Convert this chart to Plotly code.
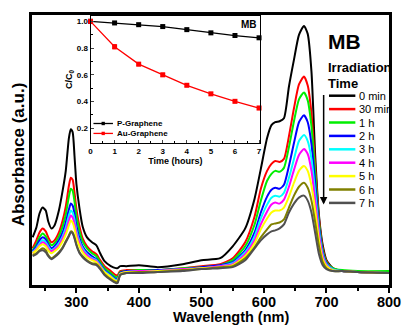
import numpy as np
import plotly.graph_objects as go

# ---------------- data ----------------
wavelength = [230, 236, 241, 246, 251, 255, 260, 265, 272, 278, 283, 288, 291, 294, 297, 300,
              305, 310, 317, 325, 332, 338, 345, 355, 363, 366, 370,
              380, 400, 430, 470, 500, 530,
              550, 570, 585, 595, 605, 612, 618, 625, 632, 640, 648, 656,
              664, 670, 676, 682, 688, 694, 700, 710, 725, 750, 800]

# absorbance in units of 0.01 a.u.
abs_0min = [48, 58, 72, 78, 75, 64, 57, 60, 75, 95, 115, 148, 157, 154, 130, 102, 77, 59, 48, 43, 40, 32, 24, 19, 17, 17, 19,
            19, 20, 18, 21, 25, 27,
            39, 57, 87, 117, 148, 161, 164, 165, 168, 200, 227, 252,
            261, 253, 215, 130, 70, 40, 25, 17, 14, 13, 12]
abs_30min = [37, 45, 53, 57, 54, 48, 43, 45, 53, 65, 79, 100, 108, 106, 93, 77, 59, 47, 39, 34, 31, 25, 19, 14, 10, 10, 14,
             15, 15, 15, 17, 19, 21,
             27, 43, 69, 97, 115, 122, 125, 124, 127, 150, 178, 202,
             210, 201, 173, 120, 67, 37, 24, 17, 14, 13, 12]
abs_1h = [35, 41, 48, 52, 49, 44, 40, 42, 49, 59, 71, 89, 97, 95, 84, 70, 54, 44, 37, 32, 29, 23, 17, 12, 8, 8, 13,
          14, 15, 15, 17, 18, 20,
          25, 39, 61, 85, 105, 112, 115, 114, 118, 139, 165, 187,
          194, 186, 160, 113, 63, 35, 23, 17, 15, 14, 14]
abs_2h = [34, 39, 45, 48, 46, 41, 37, 39, 45, 53, 63, 76, 82, 80, 72, 60, 47, 39, 33, 29, 26, 21, 15, 10, 6, 6, 12,
          14, 14, 15, 16, 18, 20,
          23, 35, 53, 73, 89, 96, 98, 97, 101, 120, 143, 164,
          171, 164, 142, 103, 59, 33, 22, 16, 14, 13, 12]
abs_3h = [33, 37, 42, 45, 43, 39, 35, 37, 42, 49, 58, 70, 75, 73, 66, 55, 44, 37, 31, 27, 25, 20, 14, 9, 5, 5, 11,
          13, 14, 14, 16, 17, 19,
          22, 33, 49, 67, 81, 88, 90, 89, 93, 108, 127, 145,
          151, 145, 127, 93, 55, 31, 21, 16, 14, 13, 12]
abs_4h = [32, 36, 40, 43, 41, 37, 34, 36, 40, 47, 54, 65, 70, 68, 62, 52, 42, 35, 30, 26, 24, 19, 13, 8, 4, 4, 11,
          13, 14, 14, 16, 17, 19,
          21, 31, 45, 61, 74, 81, 83, 82, 86, 99, 116, 131,
          137, 132, 115, 85, 51, 29, 20, 15, 14, 13, 12]
abs_5h = [32, 35, 39, 41, 39, 35, 32, 34, 38, 44, 51, 60, 65, 63, 57, 48, 39, 33, 28, 25, 23, 18, 13, 8, 4, 4, 11,
          13, 13, 14, 15, 17, 18,
          20, 29, 42, 56, 67, 73, 75, 75, 78, 89, 103, 115,
          120, 115, 100, 75, 45, 26, 19, 15, 14, 13, 12]
abs_6h = [30, 32, 35, 37, 35, 30, 27, 29, 33, 38, 44, 50, 54, 53, 48, 41, 33, 29, 25, 22, 21, 17, 11, 6, 3, 3, 10,
          12, 13, 13, 15, 16, 18,
          19, 27, 38, 48, 56, 61, 62, 63, 66, 78, 90, 99,
          103, 98, 85, 63, 39, 23, 17, 14, 14, 13, 12]
abs_7h = [29, 31, 34, 35, 33, 29, 26, 28, 32, 37, 43, 49, 53, 52, 47, 40, 32, 28, 24, 21, 20, 16, 10, 5, 2, 2, 10,
          12, 12, 13, 14, 16, 17,
          18, 25, 37, 45, 51, 54, 55, 57, 61, 73, 82, 88,
          90, 85, 73, 52, 31, 20, 16, 14, 14, 13, 12]

series_names = ["0 min", "30 min", "1 h", "2 h", "3 h", "4 h", "5 h", "6 h", "7 h"]
series_values = [abs_0min, abs_30min, abs_1h, abs_2h, abs_3h, abs_4h, abs_5h, abs_6h, abs_7h]
series_colors = ["#000000", "#FF0000", "#00EE00", "#0000FF", "#00FFFF", "#FF00FF", "#FFFF00", "#808000", "#505050"]

# inset data
time_hours = [0, 1, 2, 3, 4, 5, 6, 7]
p_graphene = [1.0, 0.988, 0.975, 0.961, 0.938, 0.914, 0.894, 0.877]
au_graphene = [1.0, 0.81, 0.68, 0.60, 0.522, 0.458, 0.402, 0.352]
au_graphene_err = [0.0, 0.015, 0.012, 0.012, 0.01, 0.01, 0.01, 0.012]
p_graphene_err = [0.0, 0.004, 0.004, 0.004, 0.004, 0.004, 0.004, 0.004]

# ---------------- figure ----------------
W, H = 413, 325
ML, MR, MT, MB = 32, 15, 13, 40
PW, PH = W - ML - MR, H - MT - MB


def px(x):
    return (x - ML) / PW


def py(y):
    return (H - MB - y) / PH


fig = go.Figure()

for name, vals, col in zip(series_names, series_values, series_colors):
    fig.add_trace(go.Scatter(
        x=wavelength, y=np.array(vals) / 100.0, mode="lines", name=name,
        line=dict(color=col, width=2, shape="spline", smoothing=0.6),
        showlegend=False, xaxis="x", yaxis="y"))

# inset traces
fig.add_trace(go.Scatter(
    x=time_hours, y=p_graphene, mode="lines+markers", name="P-Graphene",
    line=dict(color="black", width=1.3), marker=dict(symbol="square", size=5, color="black"),
    error_y=dict(type="data", array=p_graphene_err, color="black", thickness=1, width=2),
    showlegend=False, xaxis="x2", yaxis="y2", cliponaxis=False))
fig.add_trace(go.Scatter(
    x=time_hours, y=au_graphene, mode="lines+markers", name="Au-Graphene",
    line=dict(color="red", width=1.3), marker=dict(symbol="square", size=5, color="red"),
    error_y=dict(type="data", array=au_graphene_err, color="red", thickness=1, width=2),
    showlegend=False, xaxis="x2", yaxis="y2", cliponaxis=False))

bold = dict(family="Arial", color="black", weight="bold")

fig.update_layout(
    width=W, height=H,
    margin=dict(l=ML, r=MR, t=MT, b=MB, pad=0),
    paper_bgcolor="white", plot_bgcolor="white",
    showlegend=False,
    xaxis=dict(
        domain=[0, 1], range=[229, 800], showgrid=False, zeroline=False,
        showline=True, linecolor="black", linewidth=2.5, mirror=True,
        ticks="outside", ticklen=5, tickwidth=2, tickcolor="black",
        tickvals=[300, 400, 500, 600, 700, 800],
        ticktext=["300", "400", "500", "600", "700", "800"],
        tickfont=dict(size=14.5, **bold), ticklabelstandoff=-3,
        minor=dict(tickvals=[250, 350, 450, 550, 650, 750], ticks="outside", ticklen=3,
                   tickwidth=1.5, tickcolor="black", showgrid=False),
    ),
    yaxis=dict(
        domain=[0, 1], range=[0, 2.72], showgrid=False, zeroline=False,
        showline=True, linecolor="black", linewidth=2.5, mirror=True,
        ticks="", showticklabels=False,
    ),
    xaxis2=dict(
        domain=[px(92), px(266)], anchor="y2", range=[0, 7.05],
        showgrid=False, zeroline=False, showline=True, linecolor="black",
        linewidth=1, mirror=True, ticks="inside", ticklen=3, tickwidth=1,
        tickvals=time_hours, tickfont=dict(size=8, **bold),
        minor=dict(tickvals=[0.5, 1.5, 2.5, 3.5, 4.5, 5.5, 6.5], ticks="inside",
                   ticklen=2, tickwidth=1, tickcolor="black"),
        title=dict(text="Time (hours)", font=dict(size=9, **bold), standoff=0),
    ),
    yaxis2=dict(
        domain=[py(142), py(14)], anchor="x2", range=[0.09, 1.04],
        showgrid=False, zeroline=False, showline=True, linecolor="black",
        linewidth=1, mirror=True, ticks="inside", ticklen=3, tickwidth=1,
        tickvals=[0.2, 0.4, 0.6, 0.8, 1.0], ticktext=["0.2", "0.4", "0.6", "0.8", "1.0"],
        tickfont=dict(size=8, **bold),
        minor=dict(tickvals=[0.3, 0.5, 0.7, 0.9], ticks="inside",
                   ticklen=2, tickwidth=1, tickcolor="black"),
        title=dict(text="C/C<sub>0</sub>", font=dict(size=9, **bold), standoff=2),
    ),
)

annotations = []
shapes = []

# main axis titles
annotations.append(dict(xref="paper", yref="paper", x=px(236), y=py(317.5), text="Wavelength (nm)",
                        showarrow=False, xanchor="center", yanchor="middle",
                        font=dict(size=14.5, **bold)))
annotations.append(dict(xref="paper", yref="paper", x=px(19), y=py(153), text="Absorbance (a.u.)",
                        showarrow=False, textangle=-90, xanchor="center", yanchor="middle",
                        font=dict(size=17, **bold)))

# main legend block
annotations.append(dict(xref="paper", yref="paper", x=px(333), y=py(40), text="MB",
                        showarrow=False, xanchor="left", yanchor="middle",
                        font=dict(size=21, **bold)))
annotations.append(dict(xref="paper", yref="paper", x=px(333), y=py(66), text="Irradiation",
                        showarrow=False, xanchor="left", yanchor="middle",
                        font=dict(size=13, **bold)))
annotations.append(dict(xref="paper", yref="paper", x=px(333), y=py(82), text="Time",
                        showarrow=False, xanchor="left", yanchor="middle",
                        font=dict(size=13, **bold)))
leg_y0, leg_dy = 94.3, 13.5
for i, (name, col) in enumerate(zip(series_names, series_colors)):
    yy = leg_y0 + i * leg_dy
    shapes.append(dict(type="line", xref="paper", yref="paper", x0=px(336.5), x1=px(363.5),
                       y0=py(yy), y1=py(yy), line=dict(color=col, width=2.5)))
    annotations.append(dict(xref="paper", yref="paper", x=px(365), y=py(yy), text=name,
                            showarrow=False, xanchor="left", yanchor="middle",
                            font=dict(size=11, family="Arial", color="black")))
# arrow
annotations.append(dict(xref="paper", yref="paper", x=px(331), y=py(204), ax=0, ay=-111,
                        axref="pixel", ayref="pixel", text="", showarrow=True,
                        arrowhead=2, arrowsize=1, arrowwidth=1.5, arrowcolor="black"))

# inset labels
annotations.append(dict(xref="paper", yref="paper", x=px(265), y=py(23), text="MB",
                        showarrow=False, xanchor="right", yanchor="middle",
                        font=dict(size=10, **bold)))
inset_leg = [("P-Graphene", "black", 122.3), ("Au-Graphene", "red", 132.3)]
for name, col, yy in inset_leg:
    shapes.append(dict(type="line", xref="paper", yref="paper", x0=px(95), x1=px(115),
                       y0=py(yy), y1=py(yy), line=dict(color=col, width=1.3)))
    shapes.append(dict(type="rect", xref="paper", yref="paper", x0=px(103.3), x1=px(106.7),
                       y0=py(yy + 1.7), y1=py(yy - 1.7), line=dict(width=0), fillcolor=col))
    annotations.append(dict(xref="paper", yref="paper", x=px(117), y=py(yy), text=name,
                            showarrow=False, xanchor="left", yanchor="middle",
                            font=dict(size=8, **bold)))

fig.update_layout(annotations=annotations, shapes=shapes)

fig.write_html("out.html", config={"displayModeBar": False},
               post_script="document.body.style.margin='0px';")
